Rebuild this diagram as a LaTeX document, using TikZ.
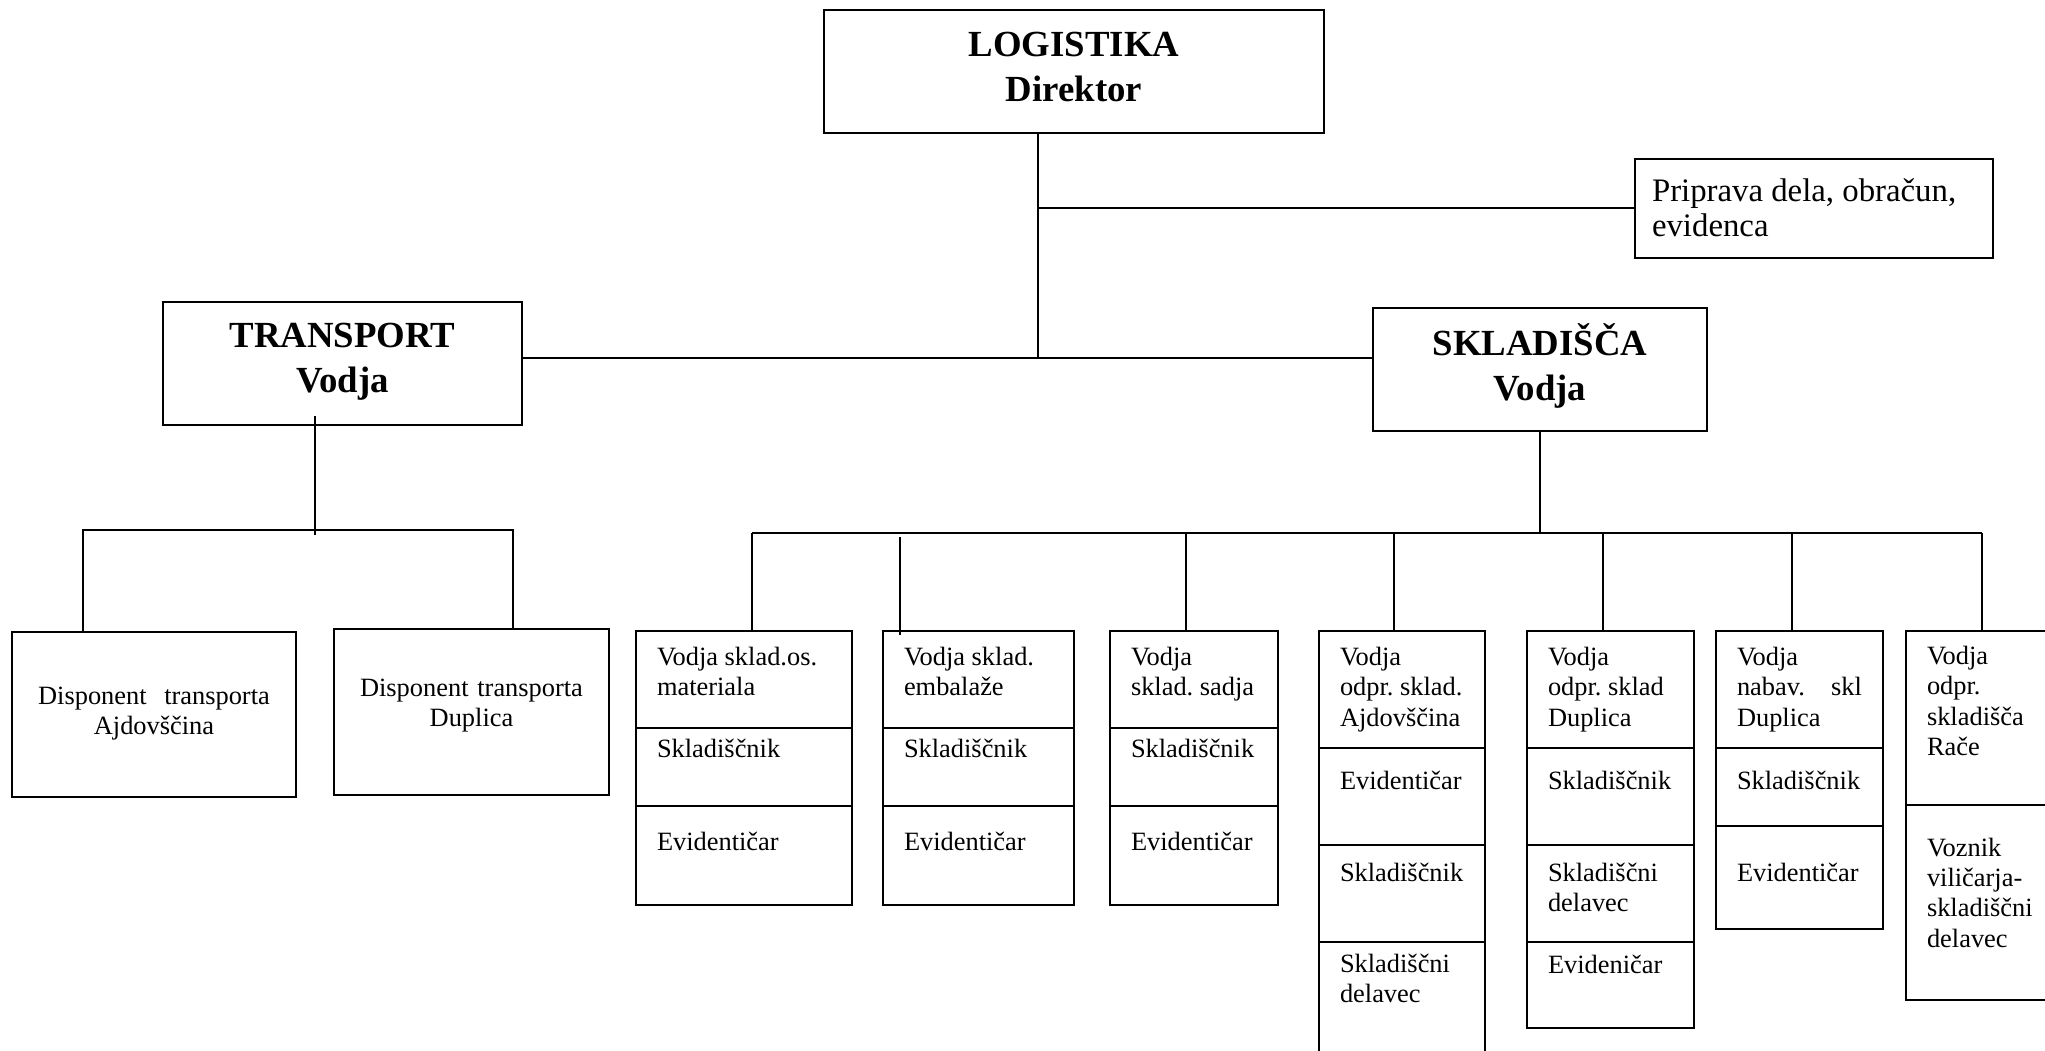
\documentclass[tikz,border=0pt]{standalone}
\usepackage{fontspec}
\setmainfont{Liberation Serif}
\usetikzlibrary{positioning}

\newcommand{\headfont}{\fontsize{18.4pt}{22.5pt}\selectfont\bfseries}
\newcommand{\cellfont}{\fontsize{13.2pt}{15.15pt}\selectfont}
\newcommand{\notefont}{\fontsize{16.4pt}{17.5pt}\selectfont}

\tikzset{
  orgbox/.style={draw, line width=1pt, outer sep=0pt, anchor=north west, inner sep=0pt},
  head/.style={orgbox, align=center, font=\headfont, text width=#1},
  cell/.style={orgbox, align=flush left, inner xsep=10.5pt, font=\cellfont, text width=#1},
  vpos/.style 2 args={text height=#1, text depth=#2},
  link/.style={line width=1pt},
}

\begin{document}
\begin{tikzpicture}[x=0.5pt, y=-0.5pt]
    \useasboundingbox (0,0) rectangle (2045,1050);

    % vodstvo
    \node[head=250pt, vpos={23pt}{38.5pt}] (log) at (824,10) {LOGISTIKA\\Direktor};
    \node[orgbox, align=flush left, inner xsep=8.5pt, font=\notefont, text width=162pt,
          vpos={21.35pt}{27.9pt}] (prip) at (1635,159) {Priprava dela, obračun,\\evidenca};
    \node[head=179.5pt, vpos={22.5pt}{38.8pt}] (trans) at (163,302) {TRANSPORT\\Vodja};
    \node[head=167pt, vpos={23.5pt}{38pt}] (skl) at (1373,308) {SKLADIŠČA\\Vodja};

    \coordinate (jn) at (1038,358);
    \draw[link] (log.south -| jn) -- (jn);
    \draw[link] (jn |- prip.west) -- (prip.west);
    \draw[link] (trans.east |- jn) -- (skl.west |- jn);

    % transport
    \node[orgbox, align=center, font=\cellfont, text width=142pt, vpos={36pt}{46.5pt}]
        (disA) at (12,632) {Disponent\ \ transporta\\Ajdovščina};
    \node[orgbox, align=center, font=\cellfont, text width=137.5pt, vpos={33.8pt}{49.2pt}]
        (disD) at (334,629) {Disponent transporta\\Duplica};

    \coordinate (tbus) at (315,530);
    \draw[link] ([yshift=4.3pt]tbus |- trans.south) -- ([yshift=-2.5pt]tbus);
    \draw[link] (disA.north -| 83,0) |- (tbus) -| (disD.north -| 513,0);

    % skladišča
    \node[cell=87pt, vpos={17.25pt}{31.25pt}] (b1a) at (636,631) {Vodja~sklad.os.\\materiala};
    \node[cell=87pt, vpos={14.75pt}{24.25pt}, below=0pt of b1a] (b1b) {Skladiščnik};
    \node[cell=87pt, vpos={22pt}{27.5pt}, below=0pt of b1b] (b1c) {Evidentičar};

    \node[cell=74.5pt, vpos={17.25pt}{31.25pt}] (b2a) at (883,631) {Vodja~sklad.\\embalaže};
    \node[cell=74.5pt, vpos={14.75pt}{24.25pt}, below=0pt of b2a] (b2b) {Skladiščnik};
    \node[cell=74.5pt, vpos={22pt}{27.5pt}, below=0pt of b2b] (b2c) {Evidentičar};

    \node[cell=63pt, vpos={17.25pt}{31.25pt}] (b3a) at (1110,631) {Vodja\\sklad.~sadja};
    \node[cell=63pt, vpos={14.75pt}{24.25pt}, below=0pt of b3a] (b3b) {Skladiščnik};
    \node[cell=63pt, vpos={22pt}{27.5pt}, below=0pt of b3b] (b3c) {Evidentičar};

    \node[cell=62pt, vpos={17.2pt}{41.05pt}] (b4a) at (1319,631) {Vodja\\odpr.~sklad.\\Ajdovščina};
    \node[cell=62pt, vpos={20.75pt}{28pt}, below=0pt of b4a] (b4b) {Evidentičar};
    \node[cell=62pt, vpos={18pt}{30.5pt}, below=0pt of b4b] (b4c) {Skladiščnik};
    \node[cell=62pt, vpos={15pt}{49pt}, below=0pt of b4c] (b4d) {Skladiščni\\delavec};

    \node[cell=62.5pt, vpos={17.2pt}{41.05pt}] (b5a) at (1527,631) {Vodja\\odpr.~sklad\\Duplica};
    \node[cell=62.5pt, vpos={20.75pt}{28pt}, below=0pt of b5a] (b5b) {Skladiščnik};
    \node[cell=62.5pt, vpos={18pt}{30.5pt}, below=0pt of b5b] (b5c) {Skladiščni\\delavec};
    \node[cell=62.5pt, vpos={15.5pt}{27.5pt}, below=0pt of b5c] (b5d) {Evideničar};

    \node[cell=62.5pt, vpos={17.2pt}{41.05pt}] (b6a) at (1716,631) {Vodja\\nabav.\hfill skl\\Duplica};
    \node[cell=62.5pt, vpos={20.75pt}{18.5pt}, below=0pt of b6a] (b6b) {Skladiščnik};
    \node[cell=62.5pt, vpos={27.85pt}{23.65pt}, below=0pt of b6b] (b6c) {Evidentičar};

    \node[cell=64pt, vpos={16.75pt}{70.35pt}] (b7a) at (1906,631) {Vodja\\odpr.\\skladišča\\Rače};
    \node[cell=64pt, vpos={25.5pt}{71.65pt}, below=0pt of b7a] (b7b) {Voznik\\viličarja-\\skladiščni\\delavec};

    \coordinate (sbus) at (1540,533);
    \draw[link] (skl.south) -- (sbus);
    \draw[link] (752,533) -- (1982,533);
    \foreach \x/\n in {752/b1a, 1186/b3a, 1394/b4a, 1603/b5a, 1792/b6a, 1982/b7a}
        \draw[link] (\x,533) -- (\x,0 |- \n.north);
    \draw[link] (900,537) -- (900,635);
\end{tikzpicture}
\end{document}
